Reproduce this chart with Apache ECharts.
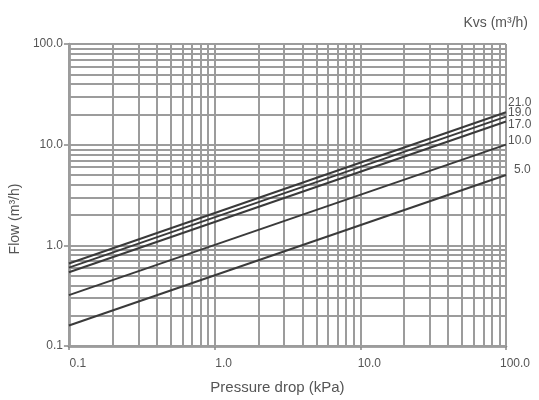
<!DOCTYPE html>
<html><head><meta charset="utf-8">
<script src="https://cdn.jsdelivr.net/npm/echarts@6/dist/echarts.min.js"></script>
<style>html,body{margin:0;padding:0;background:#fff}#c{width:539px;height:400px}</style>
</head><body><div id="c"></div>
<script>
// Data
const kvsLabels = ['21.0', '19.0', '17.0', '10.0', '5.0'];
const pressureRange = [0.1, 100];            // kPa, line end points
const flowAtLow = [0.66, 0.60, 0.54, 0.32, 0.16];   // m3/h at 0.1 kPa
const flowAtHigh = [21.0, 19.0, 17.0, 10.0, 5.0];   // m3/h at 100 kPa
const xTickLabels = ['0.1', '1.0', '10.0', '100.0'];
const yTickLabels = ['0.1', '1.0', '10.0', '100.0'];

// log grid positions (1..9 x decade)
const xGrid = [], yGrid = [];
[0.1, 1, 10].forEach(d => { for (let m = 1; m <= 9; m++) { xGrid.push(+(m * d).toPrecision(3)); } });
xGrid.push(100);
[0.1, 1, 10].forEach(d => { for (let m = 1; m <= 9; m++) { yGrid.push(+(m * d).toPrecision(3)); } });
yGrid.push(100);

const labelOffsets = [[0, -10], [0, -4], [0, 3], [0, -4], [6, -5]];

const series = kvsLabels.map((k, i) => ({
  type: 'line',
  data: [[pressureRange[0], flowAtLow[i]], [pressureRange[1], flowAtHigh[i]]],
  showSymbol: false, symbol: 'none', silent: true, z: 5,
  lineStyle: { color: '#3a3a3a', width: 2 },
  endLabel: { show: true, formatter: k, color: '#555', fontSize: 12, fontFamily: 'Liberation Sans',
              distance: 2, offset: labelOffsets[i] }
}));

series.push({
  type: 'line', data: [], silent: true, z: 1,
  markLine: {
    silent: true, symbol: ['none', 'none'], label: { show: false },
    lineStyle: { color: '#9c9c9c', width: 2, type: 'solid' },
    animation: false,
    data: xGrid.map(v => ({ xAxis: v })).concat(yGrid.map(v => ({ yAxis: v })))
  }
});

const chart = echarts.init(document.getElementById('c'));
chart.setOption({
  animation: false,
  backgroundColor: '#fff',
  textStyle: { fontFamily: 'Liberation Sans' },
  title: { text: 'Kvs (m³/h)', right: 6, top: 11,
    textStyle: { fontSize: 14, fontWeight: 'normal', color: '#555', fontFamily: 'Liberation Sans' } },
  grid: { left: 68, right: 33, top: 44, bottom: 48 },
  xAxis: {
    type: 'log', logBase: 10, min: 0.1, max: 100,
    name: 'Pressure drop (kPa)', nameLocation: 'middle', nameGap: 34,
    nameTextStyle: { fontSize: 15, color: '#555', padding: [0, 20, 0, 0] },
    axisLine: { show: true, lineStyle: { color: '#888', width: 2.5 } },
    axisTick: { show: true, length: 4, lineStyle: { color: '#888', width: 1.5 } },
    splitLine: { show: false },
    axisLabel: { fontSize: 12, color: '#555', margin: 12, padding: [0, 0, 0, 18],
      formatter: v => xTickLabels[Math.round(Math.log10(v)) + 1] }
  },
  yAxis: {
    type: 'log', logBase: 10, min: 0.1, max: 100,
    name: 'Flow (m³/h)', nameLocation: 'middle', nameGap: 38, nameRotate: 90,
    nameTextStyle: { fontSize: 14, color: '#555', padding: [0, 48, 0, 0] },
    axisLine: { show: true, lineStyle: { color: '#888', width: 2.5 } },
    axisTick: { show: true, length: 5, lineStyle: { color: '#888', width: 1.5 } },
    splitLine: { show: false },
    axisLabel: { fontSize: 12, color: '#555', margin: 6,
      formatter: v => yTickLabels[Math.round(Math.log10(v)) + 1] }
  },
  series: series
});
</script></body></html>
